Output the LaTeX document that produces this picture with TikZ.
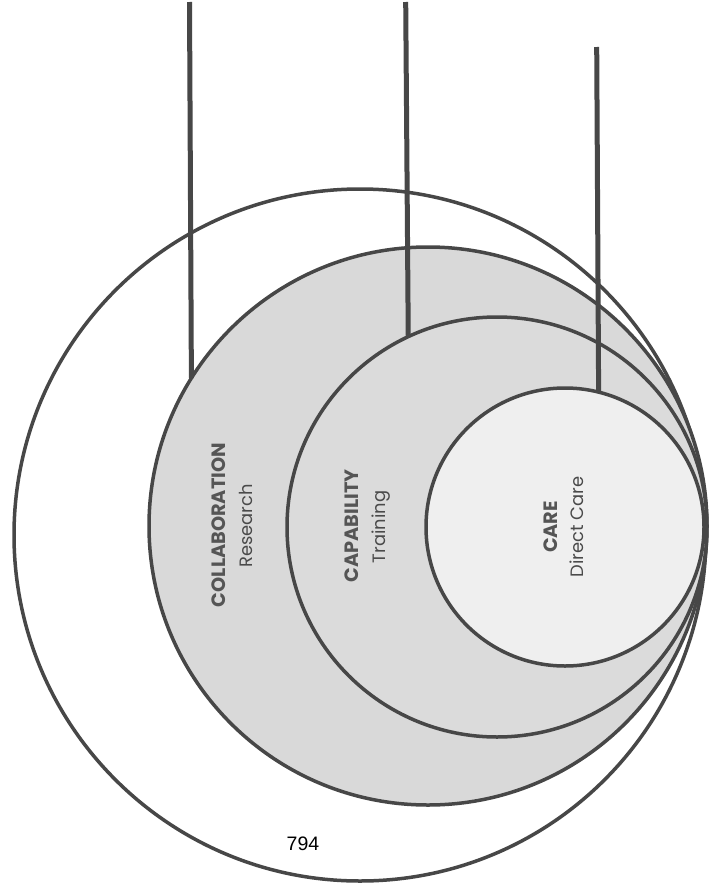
\documentclass[tikz,border=0pt]{standalone}
\usepackage{fontspec}
\setmainfont{Poppins}
\newfontfamily\numfont{Liberation Sans}
\definecolor{ringline}{HTML}{474747}
\definecolor{ringgray}{HTML}{D9D9D9}
\definecolor{ringgraytwo}{HTML}{DBDBDB}
\definecolor{innerfill}{HTML}{EFEFEF}
\definecolor{boldtext}{HTML}{555555}
\definecolor{regtext}{HTML}{4A4A4A}
\tikzset{
  ring/.style={circle, draw=ringline, line width=3.5pt, inner sep=0pt, outer sep=0pt},
  leader/.style={draw=ringline, line width=5pt},
  title/.style={rotate=90, anchor=base, text=boldtext, font=\fontsize{19.3}{22}\selectfont\bfseries},
  sub/.style={rotate=90, anchor=base, text=regtext, font=\fontsize{17.9}{21}\selectfont},
}
\begin{document}
\begin{tikzpicture}[x=1pt,y=-1pt]
\useasboundingbox (0,0) rectangle (711,889);
\fill[white] (0,0) rectangle (711,889);
\node[ring, fill=white, minimum size=692pt] (c1) at (360,535) {};
\node[ring, fill=ringgray, minimum size=558pt] (c2) at (428,526) {};
\node[ring, fill=ringgraytwo, minimum size=420pt] (c3) at (497,527) {};
\node[ring, fill=innerfill, minimum size=278pt] (c4) at (565,527) {};
\coordinate (t1) at (189.5,2);
\coordinate (t2) at (405.7,2);
\coordinate (t3) at (596.7,47);
\draw[leader] (t1) -- (c2.148.7);
\draw[leader] (t2) -- (c3.115.8);
\draw[leader] (t3) -- (c4.76.8);
\node[title] (collab) at (225,525) {COLLABORATION};
\node[sub] (research) at (252,526) {Research};
\node[title] (capab) at (358,526) {CAPABILITY};
\node[sub] (training) at (385,527) {Training};
\node[title] (care) at (557,527) {CARE};
\node[sub] (direct) at (583,527) {Direct Care};
\node[font=\numfont\fontsize{19.5}{22}\selectfont, text=black] (num) at (303,844) {794};
\end{tikzpicture}
\end{document}
